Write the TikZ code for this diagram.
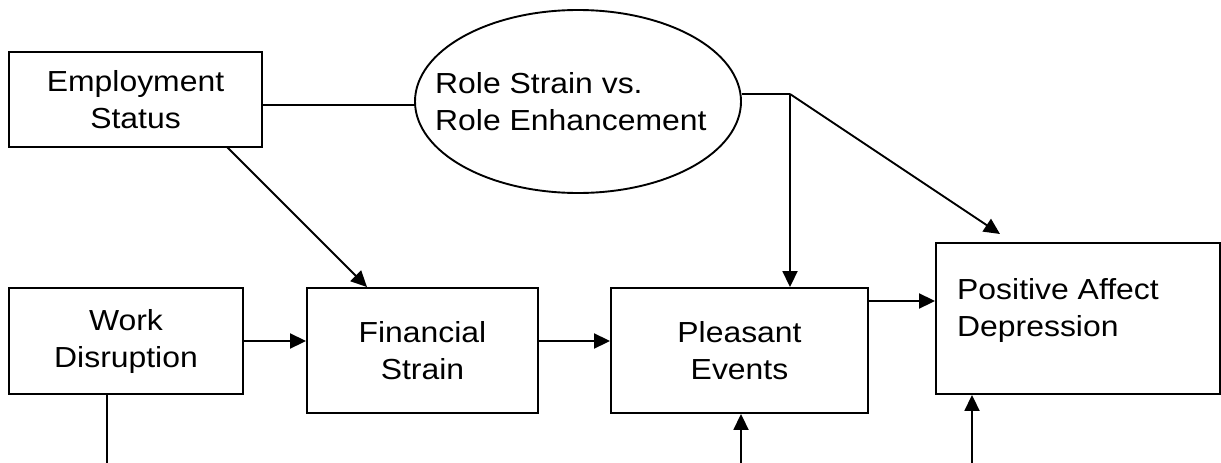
\documentclass[tikz,border=0pt]{standalone}
\usepackage{fontspec}
\setmainfont[FakeStretch=1.1]{Liberation Sans}
\usetikzlibrary{shapes.geometric,arrows.meta}
\begin{document}
\begin{tikzpicture}[x=1pt,y=-1pt,
  every node/.style={font=\fontsize{29}{37}\selectfont},
  box/.style={draw,rectangle,line width=1.9pt,inner sep=0pt,align=center},
  oval/.style={draw,ellipse,line width=1.9pt,inner sep=0pt},
  txt/.style={inner sep=0pt,align=left},
  conn/.style={line width=1.9pt},
  arr/.style={line width=1.9pt,-{Triangle[length=16pt,width=15pt]}}]
\useasboundingbox (0,0) rectangle (1221,463);
% nodes
\node[box,minimum width=253pt,minimum height=95pt] (emp) at (135.5,99.5) {Employment\\Status};
\node[oval,minimum width=326pt,minimum height=183pt] (role) at (578,101.5) {};
\node[txt,anchor=west] (roletxt) at (435,101.5) {Role Strain vs.\\Role Enhancement};
\node[box,minimum width=234pt,minimum height=106pt] (work) at (126,341) {Work\\Disruption};
\node[box,minimum width=231pt,minimum height=125pt] (fin) at (422.5,350.5) {Financial\\Strain};
\node[box,minimum width=257pt,minimum height=125pt] (pleas) at (739.5,350.5) {Pleasant\\Events};
\node[box,minimum width=284pt,minimum height=151pt] (pos) at (1078,318.5) {};
\node[txt,anchor=north west] (postxt) at (957,278) {Positive Affect\\Depression};
% helper coordinates
\coordinate (y105) at (0,105);
\coordinate (J) at (790,94);
\coordinate (es) at (227,147);
\coordinate (fx) at (367,0);
\coordinate (y301) at (0,301);
\coordinate (postip) at (1000,234);
\coordinate (wb) at (107,463);
\coordinate (pb) at (741,463);
\coordinate (qb) at (972,463);
% connectors
\draw[conn] (emp.east |- y105) -- (role.west |- y105);
\draw[arr] (es) -- (fin.north -| fx);
\draw[conn] (role.east |- J) -- (J);
\draw[arr] (J) -- (J |- pleas.north);
\draw[arr] (J) -- (postip);
\draw[arr] (work.east) -- (work.east -| fin.west);
\draw[arr] (fin.east |- work.east) -- (pleas.west |- work.east);
\draw[arr] (pleas.east |- y301) -- (pos.west |- y301);
\draw[conn] (work.south -| wb) -- (wb);
\draw[arr] (pb) -- (pleas.south -| pb);
\draw[arr] (qb) -- (pos.south -| qb);
\end{tikzpicture}
\end{document}
